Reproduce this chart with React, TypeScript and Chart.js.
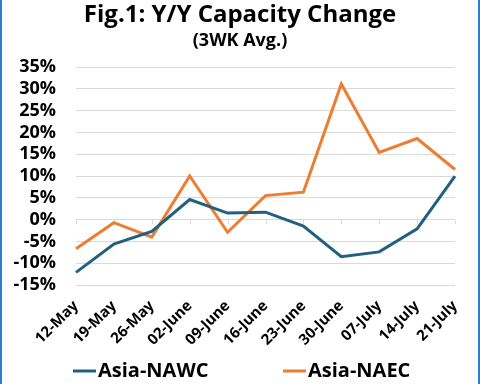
import React, { useEffect, useRef } from "react";
import { Chart, registerables } from "chart.js";

Chart.register(...registerables);

const categories = ["12-May", "19-May", "26-May", "02-June", "09-June", "16-June", "23-June", "30-June", "07-July", "14-July", "21-July"];
const nawcValues = [-12.1, -5.6, -2.7, 4.6, 1.5, 1.7, -1.5, -8.5, -7.4, -2.1, 10.0];
const naecValues = [-6.7, -0.7, -4.0, 10.0, -2.9, 5.5, 6.3, 31.1, 15.4, 18.6, 11.5];
const seriesNames = ["Asia-NAWC", "Asia-NAEC"];
const seriesColors = ["#22607f", "#ed7d31"];
const titleText = "Fig.1: Y/Y Capacity Change";
const subtitleText = "(3WK Avg.)";
const yMin = -15;
const yMax = 35;
const yStep = 5;

const FONT = "'Open Sans', 'Noto Sans', sans-serif";

const titlePlugin = {
  id: "centeredTitle",
  afterDraw(chart: any) {
    const { ctx } = chart;
    ctx.save();
    ctx.fillStyle = "#000";
    ctx.textAlign = "center";
    ctx.textBaseline = "alphabetic";
    ctx.font = `bold 24px ${FONT}`;
    ctx.fillText(titleText, 240, 22);
    ctx.font = `bold 18px ${FONT}`;
    ctx.fillText(subtitleText, 240, 45.5);
    ctx.restore();
  },
};

const zeroTicksPlugin = {
  id: "zeroTicks",
  beforeDatasetsDraw(chart: any) {
    const { ctx, scales } = chart;
    const xs = scales.x;
    const ys = scales.y;
    const y0 = Math.round(ys.getPixelForValue(0));
    ctx.save();
    ctx.strokeStyle = "#d9d9d9";
    ctx.lineWidth = 1;
    categories.forEach((_, i) => {
      const x = Math.round(xs.getPixelForValue(i)) + 0.5;
      ctx.beginPath();
      ctx.moveTo(x, y0);
      ctx.lineTo(x, y0 + 4);
      ctx.stroke();
    });
    ctx.restore();
  },
};

const legendPlugin = {
  id: "customLegend",
  afterDraw(chart: any) {
    const { ctx } = chart;
    const datasets = chart.data.datasets;
    const starts = [73, 283];
    const y = chart.height - 13;
    ctx.save();
    ctx.font = `bold 20px ${FONT}`;
    ctx.textBaseline = "middle";
    ctx.fillStyle = "#000";
    datasets.forEach((ds: any, i: number) => {
      const x = starts[i];
      ctx.strokeStyle = ds.borderColor;
      ctx.lineWidth = 3;
      ctx.beginPath();
      ctx.moveTo(x, y);
      ctx.lineTo(x + 23, y);
      ctx.stroke();
      ctx.fillText(ds.label, x + 25, y);
    });
    ctx.restore();
  },
};

const borderPlugin = {
  id: "frameBorder",
  afterDraw(chart: any) {
    const { ctx } = chart;
    ctx.save();
    ctx.fillStyle = "#2a7fd0";
    ctx.fillRect(0, 0, 2, chart.height);
    ctx.fillRect(chart.width - 2, 0, 2, chart.height);
    ctx.restore();
  },
};

export default function App() {
  const ref = useRef<HTMLCanvasElement | null>(null);
  useEffect(() => {
    if (!ref.current) return;
    Chart.defaults.font.family = FONT;
    const chart = new Chart(ref.current, {
      type: "line",
      data: {
        labels: categories,
        datasets: [
          { label: seriesNames[0], data: nawcValues, borderColor: seriesColors[0], backgroundColor: seriesColors[0], borderWidth: 3, pointRadius: 0, tension: 0 },
          { label: seriesNames[1], data: naecValues, borderColor: seriesColors[1], backgroundColor: seriesColors[1], borderWidth: 3, pointRadius: 0, tension: 0 },
        ],
      },
      options: {
        animation: false,
        responsive: false,
        layout: { padding: { left: 0, right: 25, top: 67, bottom: 31 } },
        plugins: {
          legend: { display: false },
          tooltip: { enabled: false },
          title: { display: false },
          subtitle: { display: false },
        },
        scales: {
          x: {
            grid: { display: false },
            border: { display: false },
            ticks: {
              autoSkip: false,
              maxRotation: 45,
              minRotation: 45,
              color: "#000",
              padding: 4,
              font: { size: 15, weight: "bold", family: FONT },
            },
          },
          y: {
            min: yMin,
            max: yMax,
            afterFit(scale: any) {
              scale.width = 76;
            },
            grid: { color: "#d9d9d9", lineWidth: 1, drawTicks: false },
            border: { display: false },
            ticks: {
              stepSize: yStep,
              autoSkip: false,
              padding: 20,
              color: "#000",
              font: { size: 18, weight: "bold", family: FONT },
              callback: (v: any) => `${v}%`,
            },
          },
        },
      },
      plugins: [zeroTicksPlugin, titlePlugin, legendPlugin, borderPlugin],
    });
    return () => chart.destroy();
  }, []);
  return (
    <div style={{ position: "fixed", left: 0, top: 0, width: 480, height: 384, background: "#fff" }}>
      <canvas ref={ref} width={480} height={384} />
    </div>
  );
}
